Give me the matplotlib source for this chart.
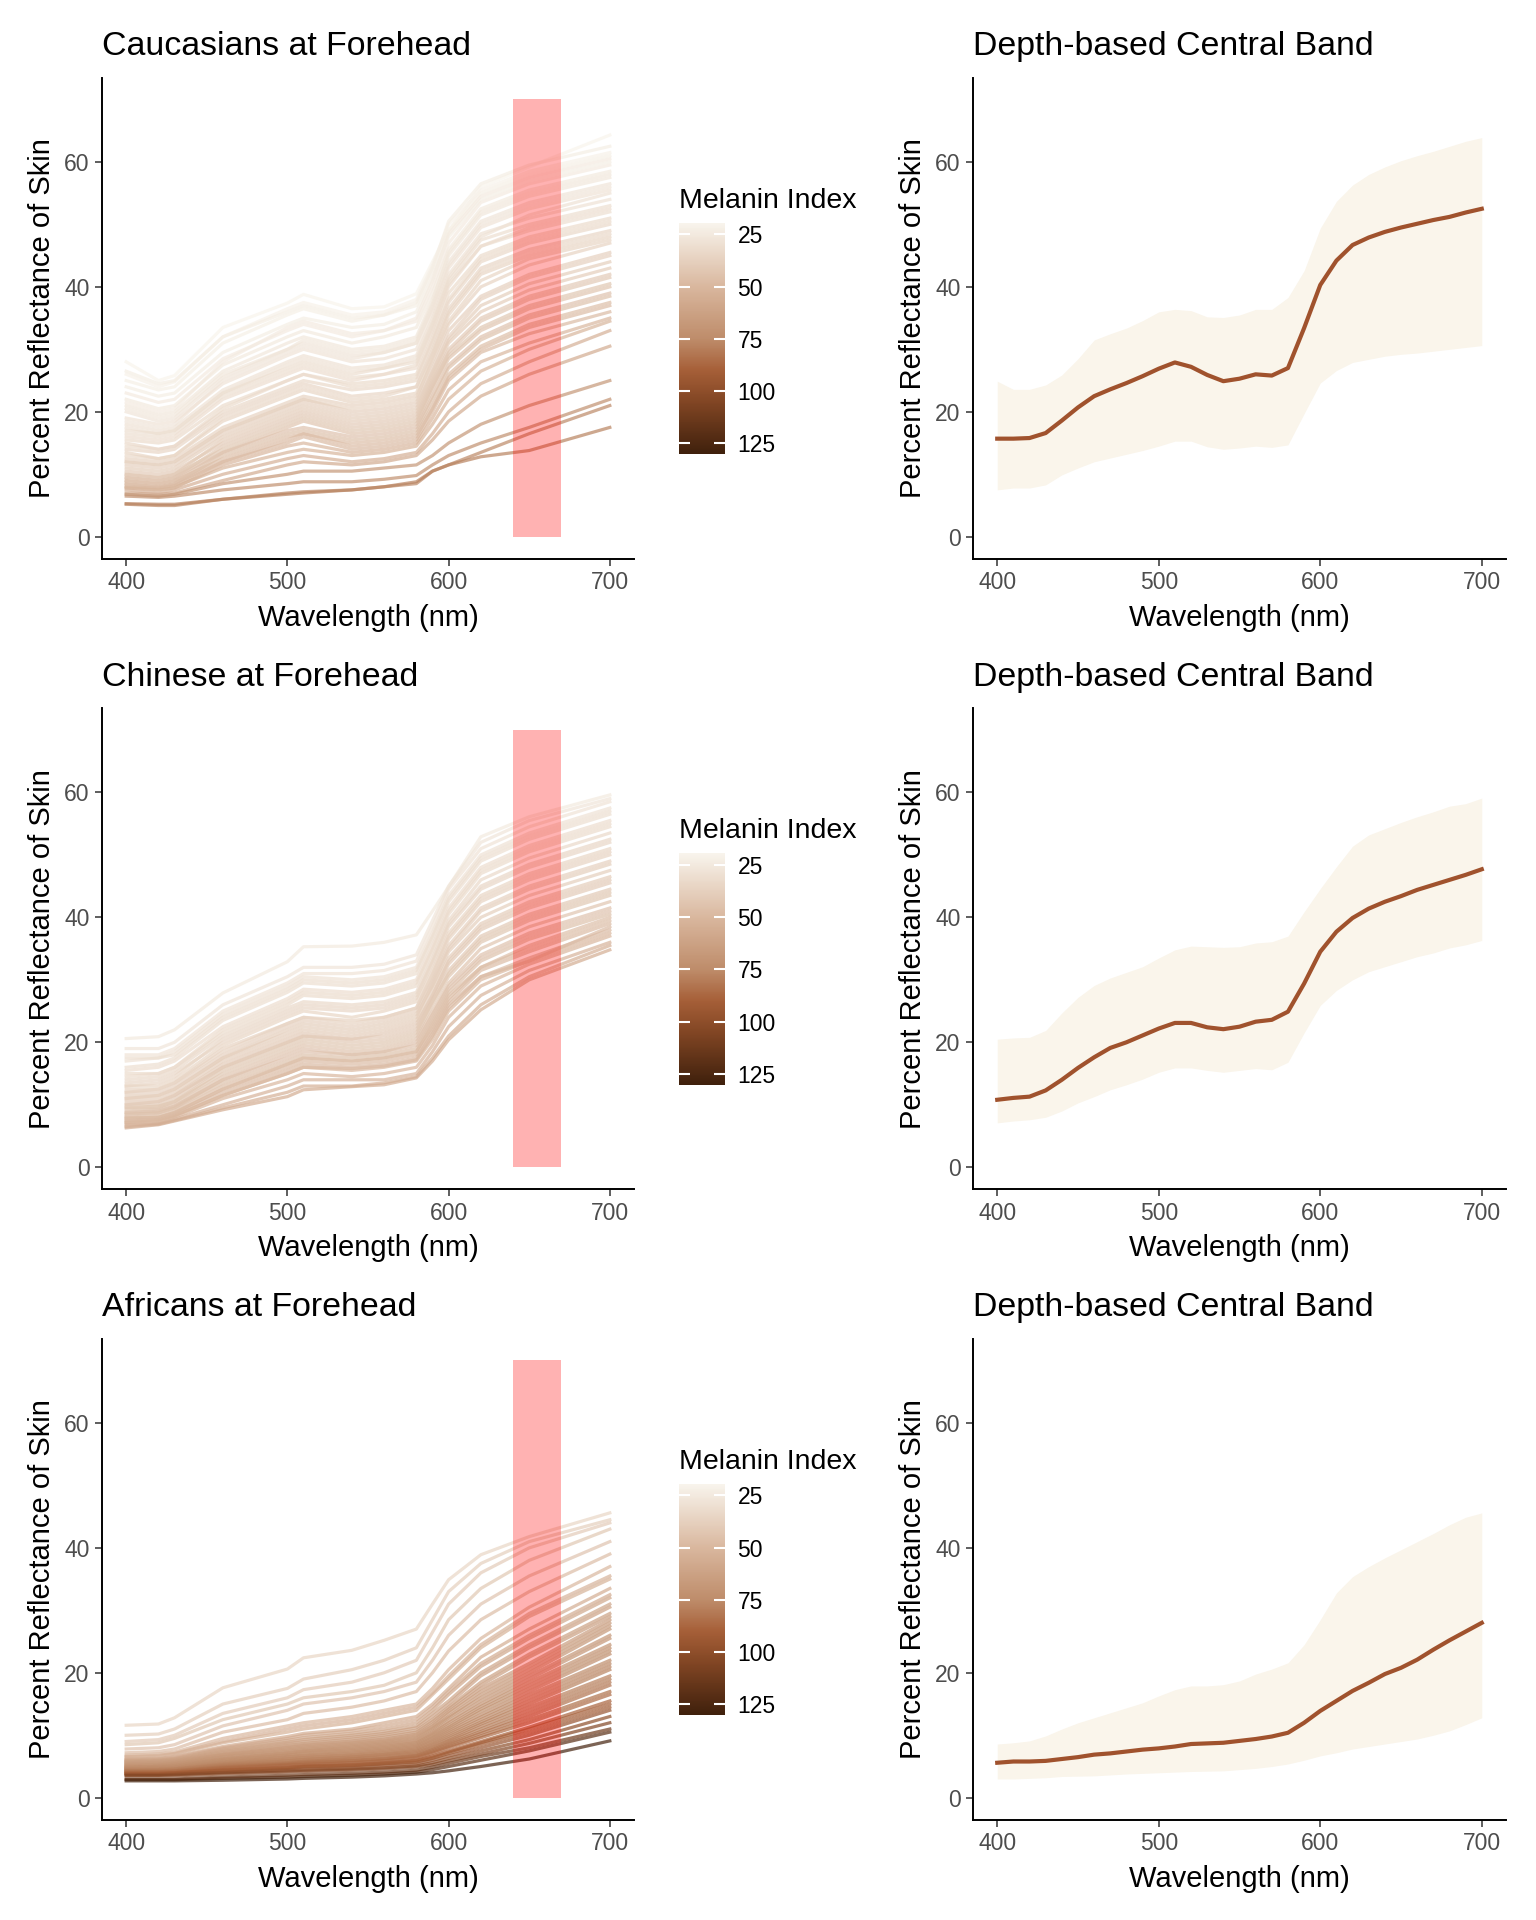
import numpy as np
import matplotlib
matplotlib.use('Agg')
import matplotlib.pyplot as plt
from matplotlib.colors import LinearSegmentedColormap, Normalize
from matplotlib.cm import ScalarMappable
from matplotlib.patches import Rectangle

plt.rcParams['font.family'] = ['Liberation Sans', 'DejaVu Sans']

wl_curves = [400, 420, 430, 460, 500, 510, 540, 560, 580, 590, 600, 620, 650, 700]
# wavelengths of the central band summaries
wl_band = list(range(400, 701, 10))

cauc_mel = [20, 21, 22, 23, 24, 25, 26, 27, 28, 29, 30, 31, 32, 33, 34, 35,
            36, 37, 38, 40, 42, 44, 46, 48, 51, 54, 57, 68, 72, 76, 78,
            23, 24, 26, 27, 29, 30, 32, 33, 35, 37, 39, 41, 43, 45, 47, 50]
cauc_curves = [
    [28.0, 25.0, 25.8, 33.5, 37.4, 38.8, 36.5, 36.8, 38.9, 44.0, 49.0, 56.0, 59.2, 64.3],
    [26.0, 24.0, 24.8, 32.0, 36.5, 37.5, 35.5, 36.0, 38.0, 43.5, 50.0, 55.5, 58.5, 61.5],
    [25.0, 23.5, 24.0, 31.0, 35.5, 36.5, 34.5, 35.5, 37.0, 42.5, 49.0, 55.0, 58.0, 61.0],
    [24.0, 22.5, 23.0, 29.5, 34.0, 35.0, 33.5, 34.0, 36.0, 41.5, 48.0, 54.0, 57.0, 60.0],
    [23.0, 21.5, 22.0, 28.5, 33.0, 34.0, 32.0, 33.0, 34.5, 40.0, 47.0, 53.5, 56.5, 59.5],
    [22.0, 20.5, 21.0, 27.5, 32.0, 33.0, 31.0, 32.0, 33.5, 39.0, 46.0, 52.5, 55.5, 58.5],
    [21.0, 19.5, 20.0, 26.5, 31.0, 32.0, 30.0, 30.5, 32.0, 38.0, 45.0, 51.5, 54.5, 57.5],
    [20.0, 18.5, 19.0, 25.5, 30.0, 31.0, 29.0, 29.5, 31.0, 37.0, 44.0, 50.5, 53.5, 56.5],
    [19.0, 18.0, 18.5, 24.5, 29.0, 30.0, 28.0, 28.5, 30.0, 36.0, 43.0, 49.5, 52.5, 55.5],
    [18.0, 17.0, 17.5, 23.5, 28.0, 29.0, 27.0, 27.5, 29.0, 35.0, 42.0, 48.5, 51.0, 54.0],
    [17.0, 16.5, 17.0, 23.0, 27.0, 28.0, 26.0, 27.0, 28.0, 34.0, 41.0, 47.5, 50.0, 53.0],
    [16.0, 15.5, 16.0, 22.0, 26.0, 27.0, 25.0, 26.0, 27.0, 33.0, 40.0, 46.5, 49.5, 52.5],
    [15.5, 15.0, 15.5, 21.0, 25.0, 26.0, 24.5, 25.0, 26.0, 32.0, 39.0, 45.0, 48.0, 51.0],
    [15.0, 14.0, 14.5, 20.0, 24.0, 25.0, 23.5, 24.0, 25.0, 31.0, 37.5, 44.0, 47.0, 50.0],
    [14.0, 13.5, 14.0, 19.5, 23.5, 24.5, 22.5, 23.0, 24.0, 30.0, 36.5, 43.0, 46.0, 49.0],
    [13.5, 12.5, 13.0, 18.5, 22.5, 23.5, 21.5, 22.0, 23.0, 29.0, 35.5, 42.0, 45.0, 48.0],
    [12.5, 12.0, 12.5, 17.5, 21.5, 22.5, 21.0, 21.5, 22.5, 28.0, 34.0, 40.0, 43.5, 47.0],
    [12.0, 11.5, 12.0, 17.0, 21.0, 22.0, 20.0, 20.5, 21.5, 27.0, 33.0, 38.5, 42.0, 45.5],
    [11.0, 10.5, 11.0, 16.0, 20.0, 21.0, 19.0, 19.5, 20.5, 26.0, 31.5, 37.0, 40.5, 44.0],
    [10.5, 10.0, 10.5, 15.0, 19.0, 20.0, 18.0, 18.5, 19.5, 25.0, 30.0, 35.0, 38.5, 42.0],
    [10.0, 9.5, 10.0, 14.0, 18.0, 19.0, 17.0, 17.5, 18.5, 24.0, 29.0, 33.5, 37.0, 40.5],
    [9.5, 9.0, 9.5, 13.5, 17.0, 17.5, 16.0, 16.5, 17.5, 22.5, 27.5, 32.0, 35.5, 39.0],
    [9.0, 8.5, 9.0, 12.5, 16.0, 16.5, 15.0, 15.5, 16.5, 21.0, 26.0, 30.5, 34.0, 37.5],
    [8.5, 8.0, 8.5, 12.0, 15.0, 16.0, 14.0, 14.5, 15.5, 20.0, 25.0, 29.5, 32.5, 36.0],
    [8.0, 7.5, 8.0, 11.0, 13.5, 14.0, 13.0, 13.5, 14.5, 18.0, 22.0, 26.5, 30.0, 34.5],
    [7.5, 7.0, 7.5, 10.0, 12.5, 13.0, 12.0, 12.5, 13.5, 16.5, 20.0, 24.5, 28.0, 33.0],
    [7.0, 6.8, 7.0, 9.0, 11.5, 12.0, 11.5, 12.0, 13.0, 15.5, 18.5, 22.5, 26.0, 30.5],
    [6.8, 6.5, 6.8, 8.5, 10.0, 10.5, 10.5, 11.0, 11.5, 13.0, 15.0, 18.0, 21.0, 25.0],
    [6.5, 6.3, 6.5, 7.5, 8.5, 8.8, 8.8, 9.2, 9.8, 11.5, 13.0, 15.0, 17.5, 22.0],
    [5.2, 5.0, 5.0, 6.0, 7.0, 7.2, 7.5, 8.0, 8.5, 10.5, 11.5, 13.5, 16.5, 21.0],
    [5.3, 5.2, 5.2, 6.0, 6.8, 7.0, 7.5, 8.0, 8.8, 10.5, 11.5, 12.8, 13.8, 17.5],
    [26.5, 24.5, 25.0, 32.0, 36.0, 37.0, 35.0, 35.5, 37.5, 43.0, 50.5, 56.5, 59.5, 62.5],
    [21.5, 20.0, 20.5, 28.0, 33.5, 34.5, 32.5, 33.0, 35.0, 41.0, 48.5, 54.5, 57.5, 60.5],
    [20.5, 19.0, 19.5, 26.0, 30.0, 31.5, 29.5, 30.0, 31.5, 37.5, 45.5, 52.0, 55.0, 58.0],
    [18.5, 17.5, 18.0, 25.0, 29.5, 30.5, 28.5, 29.5, 31.0, 36.5, 43.5, 50.0, 53.0, 56.0],
    [17.5, 16.5, 17.0, 23.0, 27.5, 28.5, 26.5, 27.0, 28.5, 34.5, 41.5, 48.0, 51.5, 55.0],
    [16.5, 16.0, 16.5, 22.5, 26.5, 27.5, 25.5, 26.0, 27.5, 33.5, 40.5, 46.5, 49.0, 52.0],
    [14.5, 14.0, 14.5, 20.5, 25.0, 26.0, 24.0, 24.5, 25.5, 31.5, 38.0, 44.5, 47.5, 50.5],
    [13.0, 12.5, 13.0, 19.0, 23.0, 24.0, 22.0, 22.5, 24.0, 29.5, 36.0, 42.5, 45.5, 48.5],
    [12.0, 11.5, 12.0, 17.0, 21.0, 22.0, 20.5, 21.0, 22.0, 28.5, 34.5, 41.0, 44.5, 47.5],
    [11.5, 11.0, 11.5, 16.5, 20.5, 21.5, 19.5, 20.0, 21.0, 26.5, 32.0, 38.0, 41.5, 45.0],
    [10.0, 9.5, 10.0, 15.5, 19.5, 20.5, 18.5, 19.0, 20.0, 25.5, 31.0, 36.0, 39.5, 43.0],
    [9.5, 9.0, 9.5, 14.5, 18.5, 19.5, 17.5, 18.0, 19.0, 24.5, 29.5, 34.5, 38.0, 41.5],
    [9.0, 8.5, 9.0, 13.5, 17.5, 18.5, 16.5, 17.0, 18.0, 23.5, 28.5, 33.0, 36.5, 40.0],
    [8.5, 8.0, 8.5, 13.0, 16.5, 17.0, 15.5, 16.0, 17.0, 22.0, 27.0, 31.5, 35.0, 38.5],
    [8.0, 7.8, 8.2, 12.0, 15.5, 16.5, 14.5, 15.0, 16.0, 20.5, 25.5, 30.0, 33.5, 37.0],
    [7.8, 7.5, 7.8, 11.5, 14.5, 15.0, 13.5, 14.0, 15.0, 19.0, 23.5, 28.0, 31.0, 35.0],
]

chin_mel = [25, 27, 28, 29, 30, 31, 32, 33, 34, 35, 36, 37, 38, 39,
            40, 41, 42, 43, 44, 45, 46, 47, 48, 49, 50, 52, 54, 56,
            30, 32, 34, 36, 38, 40, 42, 44, 46, 48]
chin_curves = [
    [20.6, 20.9, 22.0, 27.9, 32.9, 35.3, 35.4, 36.0, 37.2, 41.0, 44.9, 52.9, 56.1, 59.6],
    [19.0, 19.0, 20.0, 26.0, 30.5, 32.0, 32.0, 32.5, 34.0, 39.5, 45.0, 52.0, 55.5, 59.0],
    [18.0, 18.0, 19.0, 25.0, 29.5, 31.0, 31.0, 31.5, 33.0, 38.5, 44.5, 51.0, 54.5, 58.5],
    [17.0, 17.5, 18.5, 24.5, 29.0, 30.5, 30.0, 30.5, 32.0, 37.5, 43.5, 50.0, 53.5, 57.5],
    [16.0, 16.5, 17.5, 23.5, 28.0, 29.5, 29.0, 29.5, 31.0, 36.5, 42.5, 49.0, 52.5, 56.5],
    [15.5, 16.0, 17.0, 22.5, 27.0, 28.5, 28.0, 28.5, 30.0, 35.5, 41.5, 48.0, 51.5, 55.5],
    [15.0, 15.0, 16.0, 21.5, 26.0, 27.5, 27.0, 27.5, 29.0, 34.5, 40.5, 47.0, 50.5, 54.5],
    [14.0, 14.5, 15.5, 21.0, 25.5, 26.5, 26.0, 26.5, 28.0, 33.5, 39.5, 46.0, 49.5, 53.5],
    [13.5, 14.0, 15.0, 20.0, 24.5, 25.5, 25.0, 25.5, 27.0, 32.5, 38.5, 44.5, 48.0, 52.0],
    [13.0, 13.0, 14.0, 19.5, 24.0, 25.0, 24.0, 25.0, 26.5, 31.5, 37.5, 43.5, 47.0, 51.0],
    [12.5, 12.5, 13.5, 19.0, 23.0, 24.0, 23.5, 24.0, 25.5, 30.5, 36.5, 42.5, 46.0, 50.0],
    [12.0, 12.0, 13.0, 18.0, 22.5, 23.5, 22.5, 23.5, 25.0, 30.0, 35.5, 41.5, 45.0, 49.0],
    [11.5, 11.5, 12.5, 17.5, 22.0, 23.0, 22.0, 23.0, 24.5, 29.0, 34.5, 40.0, 43.5, 47.5],
    [11.0, 11.0, 12.0, 17.0, 21.0, 22.0, 21.0, 22.0, 23.5, 28.5, 33.5, 39.0, 42.5, 46.5],
    [10.5, 10.5, 11.5, 16.5, 20.5, 21.5, 20.5, 21.5, 23.0, 27.5, 32.5, 38.0, 41.5, 45.5],
    [10.0, 10.0, 11.0, 16.0, 20.0, 21.0, 20.0, 20.5, 22.0, 27.0, 31.5, 37.0, 40.5, 44.5],
    [9.5, 9.8, 10.5, 15.0, 19.0, 20.0, 19.0, 19.5, 21.0, 26.0, 30.5, 36.0, 39.5, 43.5],
    [9.0, 9.3, 10.0, 14.5, 18.5, 19.5, 18.5, 19.0, 20.5, 25.0, 29.5, 35.0, 38.5, 42.5],
    [8.8, 9.0, 9.8, 14.0, 18.0, 19.0, 18.0, 18.5, 20.0, 24.5, 29.0, 34.0, 37.5, 41.5],
    [8.5, 8.7, 9.5, 13.5, 17.0, 18.0, 17.5, 18.0, 19.0, 23.5, 28.0, 33.0, 36.5, 40.5],
    [8.0, 8.3, 9.0, 13.0, 16.5, 17.5, 17.0, 17.5, 18.5, 23.0, 27.5, 32.0, 35.5, 40.0],
    [7.8, 8.0, 8.7, 12.5, 16.0, 17.0, 16.5, 17.0, 18.0, 22.0, 26.5, 31.5, 34.5, 39.0],
    [7.5, 7.8, 8.5, 12.0, 15.5, 16.5, 16.0, 16.5, 17.5, 21.5, 26.0, 30.5, 33.5, 38.0],
    [7.2, 7.5, 8.2, 11.5, 15.0, 16.0, 15.5, 16.0, 17.0, 20.5, 25.0, 30.0, 33.0, 37.5],
    [7.0, 7.3, 8.0, 11.0, 14.0, 15.0, 14.5, 15.0, 16.0, 19.5, 24.0, 29.0, 32.5, 37.0],
    [6.8, 7.0, 7.7, 10.0, 13.0, 14.0, 14.0, 14.0, 15.0, 18.5, 22.5, 27.5, 31.5, 36.0],
    [6.5, 6.9, 7.5, 9.5, 12.0, 13.0, 13.0, 13.5, 14.5, 17.5, 21.0, 26.0, 30.5, 35.5],
    [6.3, 6.8, 7.4, 9.2, 11.3, 12.4, 12.9, 13.2, 14.3, 17.0, 20.4, 25.2, 30.0, 34.8],
    [17.5, 17.5, 18.0, 24.0, 28.5, 30.0, 29.5, 30.0, 31.5, 37.0, 43.0, 49.5, 53.0, 57.0],
    [14.5, 15.0, 16.0, 22.0, 26.5, 28.0, 27.5, 28.0, 29.5, 35.0, 41.0, 47.5, 51.0, 55.0],
    [13.0, 13.5, 14.5, 20.5, 25.0, 26.0, 25.5, 26.0, 27.5, 33.0, 39.0, 45.0, 48.5, 52.5],
    [12.0, 12.5, 13.5, 18.5, 23.0, 24.0, 23.0, 24.0, 25.5, 31.0, 37.0, 43.0, 46.5, 50.5],
    [11.0, 11.5, 12.5, 17.5, 21.5, 22.5, 21.5, 22.5, 24.0, 29.5, 35.0, 41.0, 44.5, 48.5],
    [10.0, 10.5, 11.5, 16.0, 20.0, 21.0, 20.5, 21.0, 22.5, 27.5, 33.0, 38.5, 42.0, 46.0],
    [9.5, 9.5, 10.5, 15.5, 19.5, 20.5, 19.5, 20.0, 21.5, 26.5, 31.0, 36.5, 40.0, 44.0],
    [8.5, 8.8, 9.5, 14.0, 17.5, 18.5, 18.0, 18.5, 19.5, 24.0, 28.5, 33.5, 37.0, 41.0],
    [8.0, 8.0, 8.8, 12.5, 16.5, 17.5, 17.0, 17.5, 18.5, 22.5, 27.0, 32.0, 35.0, 39.5],
    [7.4, 7.6, 8.3, 11.5, 15.0, 16.0, 15.8, 16.2, 17.2, 21.0, 25.5, 30.5, 33.0, 38.5],
]

afr_mel = [35, 38, 40, 42, 44, 47, 50, 53, 56, 59, 62, 64, 66, 68, 70,
           72, 74, 76, 78, 80, 83, 86, 89, 92, 96, 100, 105, 112, 120, 128,
           52, 57, 60, 63, 65, 67, 69, 71, 73, 75, 77, 79, 81, 84, 90]
afr_curves = [
    [11.6, 11.8, 12.8, 17.6, 20.6, 22.4, 23.6, 25.2, 27.0, 31.0, 34.9, 38.9, 41.8, 45.6],
    [10.0, 10.2, 11.0, 15.0, 17.5, 19.0, 20.5, 22.0, 24.0, 28.5, 33.0, 37.5, 41.0, 44.5],
    [9.0, 9.3, 10.0, 13.5, 16.0, 17.3, 18.5, 20.0, 22.0, 26.5, 31.0, 36.0, 40.0, 44.0],
    [8.5, 8.8, 9.5, 12.5, 15.0, 16.0, 17.0, 18.0, 20.0, 24.0, 28.5, 33.5, 38.0, 43.0],
    [7.8, 8.0, 8.5, 11.5, 14.0, 15.0, 16.0, 17.0, 18.5, 22.0, 26.0, 31.0, 35.5, 41.0],
    [7.2, 7.4, 7.8, 10.5, 12.5, 13.5, 14.5, 15.5, 17.0, 20.0, 23.5, 28.5, 33.0, 39.0],
    [6.8, 7.0, 7.3, 9.5, 11.5, 12.0, 13.0, 14.0, 15.0, 17.5, 20.5, 25.5, 30.5, 37.0],
    [6.5, 6.6, 7.0, 8.8, 10.5, 11.0, 12.0, 13.0, 14.0, 16.5, 19.0, 24.0, 29.0, 35.0],
    [6.2, 6.3, 6.6, 8.2, 9.8, 10.3, 11.0, 12.0, 13.0, 15.0, 17.5, 22.5, 27.0, 33.5],
    [6.0, 6.1, 6.3, 7.8, 9.2, 9.6, 10.3, 11.0, 12.0, 14.0, 16.5, 21.0, 25.5, 32.0],
    [5.8, 5.9, 6.1, 7.4, 8.7, 9.0, 9.7, 10.3, 11.2, 13.0, 15.0, 19.5, 24.0, 30.5],
    [5.6, 5.7, 5.9, 7.0, 8.2, 8.5, 9.1, 9.7, 10.5, 12.2, 14.2, 18.0, 22.5, 29.0],
    [5.4, 5.5, 5.7, 6.8, 7.8, 8.1, 8.7, 9.2, 10.0, 11.5, 13.5, 17.0, 21.0, 28.0],
    [5.2, 5.3, 5.5, 6.5, 7.4, 7.7, 8.3, 8.8, 9.5, 11.0, 12.8, 16.0, 20.0, 27.0],
    [5.0, 5.1, 5.3, 6.2, 7.1, 7.4, 7.9, 8.4, 9.0, 10.4, 12.0, 15.0, 19.0, 25.5],
    [4.9, 5.0, 5.1, 6.0, 6.8, 7.0, 7.5, 8.0, 8.6, 9.9, 11.3, 14.2, 18.0, 24.0],
    [4.7, 4.8, 4.9, 5.7, 6.5, 6.7, 7.1, 7.6, 8.2, 9.4, 10.7, 13.3, 17.0, 23.0],
    [4.6, 4.6, 4.7, 5.5, 6.2, 6.4, 6.8, 7.2, 7.8, 8.9, 10.1, 12.5, 16.0, 21.5],
    [4.4, 4.5, 4.6, 5.3, 5.9, 6.1, 6.5, 6.9, 7.4, 8.4, 9.5, 11.8, 15.0, 20.5],
    [4.3, 4.3, 4.4, 5.1, 5.6, 5.8, 6.2, 6.5, 7.0, 7.9, 9.0, 11.0, 14.0, 19.0],
    [4.2, 4.2, 4.3, 4.9, 5.4, 5.6, 5.9, 6.2, 6.7, 7.5, 8.5, 10.3, 13.0, 18.0],
    [4.0, 4.1, 4.1, 4.7, 5.2, 5.3, 5.6, 5.9, 6.3, 7.1, 8.0, 9.6, 12.0, 16.5],
    [3.9, 3.9, 4.0, 4.5, 4.9, 5.1, 5.3, 5.6, 6.0, 6.7, 7.5, 9.0, 11.3, 15.5],
    [3.8, 3.8, 3.9, 4.3, 4.7, 4.9, 5.1, 5.4, 5.7, 6.3, 7.1, 8.5, 10.5, 14.5],
    [3.7, 3.7, 3.8, 4.1, 4.5, 4.6, 4.8, 5.1, 5.4, 6.0, 6.7, 8.0, 10.0, 14.0],
    [3.6, 3.6, 3.7, 4.0, 4.3, 4.4, 4.6, 4.8, 5.1, 5.6, 6.3, 7.5, 9.3, 13.0],
    [3.5, 3.5, 3.5, 3.8, 4.1, 4.2, 4.4, 4.6, 4.9, 5.3, 5.9, 7.0, 8.7, 12.0],
    [3.0, 3.0, 3.0, 3.3, 3.6, 3.7, 3.9, 4.1, 4.4, 4.9, 5.5, 6.6, 8.0, 11.0],
    [2.9, 2.9, 2.9, 3.1, 3.3, 3.4, 3.6, 3.8, 4.1, 4.5, 5.0, 6.0, 7.5, 10.5],
    [2.7, 2.7, 2.7, 2.8, 3.0, 3.1, 3.3, 3.5, 3.8, 4.0, 4.3, 5.0, 6.2, 9.1],
    [6.6, 6.8, 7.1, 9.0, 11.0, 11.5, 12.5, 13.5, 14.5, 16.8, 19.5, 24.5, 29.5, 35.5],
    [6.1, 6.2, 6.5, 8.0, 9.5, 10.0, 10.7, 11.5, 12.5, 14.5, 17.0, 21.5, 26.0, 32.5],
    [5.9, 6.0, 6.2, 7.6, 8.9, 9.3, 10.0, 10.6, 11.5, 13.5, 15.5, 20.0, 24.5, 31.0],
    [5.7, 5.8, 6.0, 7.2, 8.4, 8.7, 9.4, 10.0, 10.8, 12.5, 14.5, 18.5, 23.0, 29.5],
    [5.5, 5.6, 5.8, 6.9, 8.0, 8.3, 8.9, 9.4, 10.2, 11.8, 13.8, 17.5, 21.5, 28.5],
    [5.3, 5.4, 5.6, 6.6, 7.6, 7.9, 8.5, 9.0, 9.7, 11.2, 13.0, 16.5, 20.5, 27.5],
    [5.1, 5.2, 5.4, 6.3, 7.2, 7.5, 8.1, 8.6, 9.2, 10.6, 12.3, 15.5, 19.5, 26.0],
    [4.9, 5.0, 5.2, 6.1, 6.9, 7.2, 7.7, 8.2, 8.8, 10.1, 11.6, 14.6, 18.5, 24.5],
    [4.8, 4.9, 5.0, 5.8, 6.6, 6.8, 7.3, 7.8, 8.4, 9.6, 11.0, 13.8, 17.5, 23.5],
    [4.6, 4.7, 4.8, 5.6, 6.3, 6.5, 6.9, 7.4, 8.0, 9.1, 10.4, 12.9, 16.5, 22.0],
    [4.5, 4.5, 4.6, 5.4, 6.0, 6.2, 6.6, 7.0, 7.6, 8.6, 9.8, 12.1, 15.5, 21.0],
    [4.3, 4.4, 4.5, 5.2, 5.7, 5.9, 6.3, 6.7, 7.2, 8.1, 9.2, 11.4, 14.5, 19.5],
    [4.2, 4.2, 4.3, 5.0, 5.5, 5.7, 6.0, 6.3, 6.8, 7.7, 8.7, 10.6, 13.5, 18.5],
    [4.1, 4.1, 4.2, 4.8, 5.3, 5.4, 5.7, 6.0, 6.5, 7.3, 8.2, 9.9, 12.5, 17.0],
    [3.9, 3.9, 4.0, 4.4, 4.8, 5.0, 5.2, 5.5, 5.9, 6.5, 7.3, 8.8, 11.0, 15.0],
]

# depth-based central band: median curve and band limits
cauc_med = [15.7, 15.7, 15.8, 16.6, 18.6, 20.7, 22.5, 23.6, 24.6, 25.7, 26.9, 27.9, 27.2, 25.9, 24.9, 25.3,
            26.0, 25.8, 27.0, 33.4, 40.3, 44.2, 46.7, 47.9, 48.8, 49.5, 50.1, 50.7, 51.2, 51.9, 52.5]
cauc_hi = [24.9, 23.6, 23.6, 24.3, 25.9, 28.5, 31.5, 32.5, 33.4, 34.6, 36.0, 36.4, 36.2, 35.2, 35.1, 35.5,
           36.4, 36.4, 38.3, 42.6, 49.4, 53.7, 56.3, 58.0, 59.2, 60.2, 61.0, 61.7, 62.5, 63.3, 63.9]
cauc_lo = [7.5, 7.8, 7.8, 8.3, 9.9, 11.0, 12.0, 12.6, 13.2, 13.8, 14.5, 15.3, 15.3, 14.4, 14.0, 14.2,
           14.5, 14.3, 14.7, 19.7, 24.6, 26.6, 27.9, 28.4, 28.9, 29.2, 29.4, 29.7, 30.0, 30.3, 30.6]

chin_med = [10.8, 11.1, 11.3, 12.3, 14.0, 15.9, 17.6, 19.1, 20.0, 21.1, 22.2, 23.1, 23.1, 22.4, 22.1, 22.5,
            23.3, 23.6, 24.9, 29.4, 34.5, 37.7, 39.9, 41.4, 42.5, 43.4, 44.4, 45.2, 46.0, 46.8, 47.7]
chin_hi = [20.5, 20.7, 20.8, 21.9, 24.7, 27.2, 29.1, 30.3, 31.2, 32.1, 33.5, 34.8, 35.4, 35.3, 35.2, 35.3,
           35.9, 36.1, 37.0, 40.9, 44.6, 48.1, 51.4, 53.2, 54.2, 55.2, 56.1, 56.9, 57.8, 58.2, 59.1]
chin_lo = [7.1, 7.4, 7.6, 8.0, 9.0, 10.3, 11.3, 12.4, 13.2, 14.1, 15.2, 15.9, 15.9, 15.5, 15.2, 15.5,
           15.8, 15.6, 16.8, 21.5, 25.9, 28.3, 30.0, 31.3, 32.1, 32.9, 33.7, 34.3, 35.1, 35.6, 36.3]

afr_med = [5.6, 5.8, 5.8, 5.9, 6.2, 6.5, 6.9, 7.1, 7.4, 7.7, 7.9, 8.2, 8.6, 8.7, 8.8, 9.1,
           9.4, 9.8, 10.4, 12.0, 13.9, 15.5, 17.1, 18.4, 19.8, 20.8, 22.1, 23.7, 25.2, 26.6, 28.0]
afr_hi = [8.6, 8.8, 9.1, 9.9, 11.0, 12.0, 12.8, 13.6, 14.4, 15.2, 16.3, 17.3, 17.9, 17.9, 18.1, 18.7,
          19.8, 20.6, 21.6, 24.5, 28.5, 32.8, 35.4, 37.0, 38.4, 39.7, 41.0, 42.3, 43.7, 44.9, 45.6]
afr_lo = [3.0, 3.0, 3.1, 3.2, 3.4, 3.45, 3.5, 3.65, 3.8, 3.9, 4.0, 4.1, 4.2, 4.25, 4.3, 4.5,
          4.7, 5.0, 5.4, 6.0, 6.7, 7.2, 7.8, 8.2, 8.6, 9.0, 9.4, 10.0, 10.7, 11.7, 12.8]

titles = ['Caucasians at Forehead', 'Chinese at Forehead', 'Africans at Forehead']
mel_ticks = [25, 50, 75, 100, 125]
mel_range = (19.6, 130.1)

# melanin colour scale (light linen -> sienna -> dark brown)
anchors = [(19.6, '#F8F4EC'), (50, '#D9B79E'), (75, '#BE8C6A'),
           (90, '#A65F38'), (105, '#824624'), (130.1, '#3F200C')]
span = mel_range[1] - mel_range[0]
cmap = LinearSegmentedColormap.from_list(
    'melanin', [((v - mel_range[0]) / span, c) for v, c in anchors])
norm = Normalize(*mel_range)

W, H = 1536, 1920
fig = plt.figure(figsize=(W / 100, H / 100), dpi=100)


def px_axes(x0, y0, x1, y1):
    return fig.add_axes([x0 / W, 1 - y1 / H, (x1 - x0) / W, (y1 - y0) / H])


def style(ax, title):
    ax.set_xlim(385, 715)
    ax.set_ylim(-3.5, 73.5)
    ax.set_xticks([400, 500, 600, 700])
    ax.set_yticks([0, 20, 40, 60])
    for s in ['top', 'right']:
        ax.spines[s].set_visible(False)
    for s in ['left', 'bottom']:
        ax.spines[s].set_linewidth(1.4)
    ax.tick_params(length=5, width=1.1, color='#333333', labelsize=16.5,
                   labelcolor='#4D4D4D', pad=4)
    ax.set_xlabel('Wavelength (nm)', fontsize=21, labelpad=7)
    ax.set_ylabel('Percent Reflectance of Skin', fontsize=21, labelpad=6)
    ax.set_title(title, loc='left', fontsize=24.4, pad=16)


row_h = 630.5
spectra = [(cauc_curves, cauc_mel), (chin_curves, chin_mel), (afr_curves, afr_mel)]
bands = [(cauc_med, cauc_lo, cauc_hi), (chin_med, chin_lo, chin_hi), (afr_med, afr_lo, afr_hi)]

for r in range(3):
    top = 77.6 + r * row_h
    bot = 558.6 + r * row_h

    # left: individual spectra coloured by melanin index
    ax = px_axes(102, top, 634, bot)
    curves, mels = spectra[r]
    for vals, m in sorted(zip(curves, mels), key=lambda t: t[1]):
        ax.plot(wl_curves, vals, color=cmap(norm(m)), lw=2.3, alpha=0.7,
                solid_joinstyle='round')
    ax.add_patch(Rectangle((640, 0), 30, 70, facecolor='red', alpha=0.3,
                           edgecolor='none', zorder=5))
    style(ax, titles[r])

    # colourbar legend
    cax = px_axes(679, 223 + r * row_h, 725, 454 + r * row_h)
    cb = fig.colorbar(ScalarMappable(norm=norm, cmap=cmap), cax=cax, ticks=mel_ticks)
    cb.outline.set_visible(False)
    cax.invert_yaxis()
    cax.tick_params(direction='in', color='white', length=8, width=1.5,
                    left=True, right=True, labelsize=16.5, labelcolor='black', pad=9)
    fig.text(679 / W, 1 - (208 + r * row_h) / H, 'Melanin Index',
             fontsize=20.5, ha='left', va='baseline')

    # right: depth-based central band
    ax2 = px_axes(973, top, 1506, bot)
    med, lo, hi = bands[r]
    ax2.fill_between(wl_band, lo, hi, color='#FAF5EB', lw=0)
    ax2.plot(wl_band, med, color='#A0522D', lw=3.0, solid_joinstyle='round')
    style(ax2, 'Depth-based Central Band')

fig.savefig('out.png', dpi=100)
